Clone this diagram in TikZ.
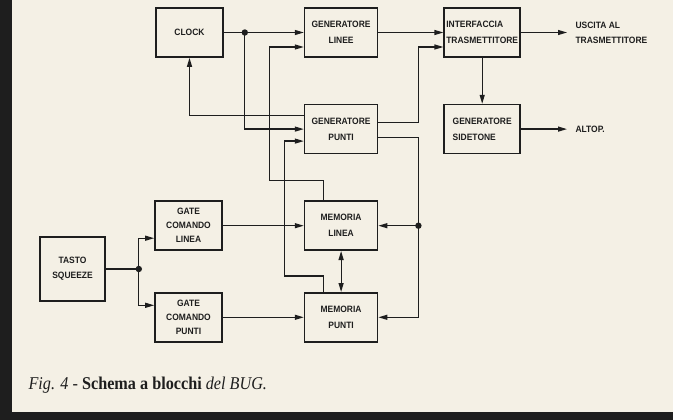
\documentclass[tikz,border=0pt]{standalone}
\usepackage{fontspec}
\newfontfamily\blkfont[FakeStretch=0.92]{Liberation Sans}
\newfontfamily\capfont[FakeStretch=0.9]{Liberation Serif}
\usetikzlibrary{
  arrows.meta,
  positioning
}
\definecolor{PaperCream}{RGB}{244,240,229}
\definecolor{InkBlack}{RGB}{30,30,30}
\tikzset{
  blk/.style={
    draw=InkBlack,
    fill=PaperCream,
    line width=1.6pt,
    minimum width=73pt,
    minimum height=49pt,
    align=center,
    text=InkBlack,
    font=\blkfont\bfseries\fontsize{9.2}{16}\selectfont,
    inner xsep=2pt
  },
  leftblk/.style={blk,align=left},
  gateblk/.style={blk,minimum width=67pt,font=\blkfont\bfseries\fontsize{9.2}{14}\selectfont},
  wire/.style={draw=InkBlack,line width=1.2pt},
  arrow/.style={wire,-{Triangle[length=9pt,width=5pt]}},
  dblarrow/.style={wire,{Triangle[length=9pt,width=5pt]}-{Triangle[length=9pt,width=5pt]}},
  outlbl/.style={anchor=west,align=left,text=InkBlack,font=\blkfont\bfseries\fontsize{9.2}{15}\selectfont}
}

\begin{document}
\begin{tikzpicture}[x=1pt,y=-1pt]
  \useasboundingbox (0,0) rectangle (673,420);
  \fill[PaperCream] (0,0) rectangle (673,420);
  \fill[InkBlack] (0,0) rectangle (12,420);
  \fill[InkBlack] (0,412) rectangle (673,420);

  % Generator row on top, memories below, key on the left.
  \node[blk, minimum width=67pt] (clock) at (189.5,32.5) {CLOCK};
  \node[blk, right=80pt of clock] (genlin) {GENERATORE\\LINEE};
  \node[leftblk, right=65pt of genlin, minimum width=76pt] (interf) {INTERFACCIA\\TRASMETTITORE};
  \node[blk, below=46pt of genlin] (genpun) {GENERATORE\\PUNTI};
  \node[leftblk, below=46pt of interf, minimum width=76pt] (sidet) {GENERATORE\\SIDETONE};
  \node[blk, below=46pt of genpun] (memlin) {MEMORIA\\LINEA};
  \node[blk, below=41pt of memlin] (mempun) {MEMORIA\\PUNTI};
  \node[gateblk, left=81pt of memlin] (gatelin) {GATE\\COMANDO\\LINEA};
  \node[gateblk, left=81pt of mempun] (gatepun) {GATE\\COMANDO\\PUNTI};
  \node[blk, minimum width=65pt, minimum height=64pt, font=\blkfont\bfseries\fontsize{9.2}{15}\selectfont] (tasto) at (72.5,269) {TASTO\\SQUEEZE};

  % Clock fan-out and feedback
  \coordinate[right=21pt of clock.east] (jclk);
  \draw[wire] (clock.east) -- (jclk);
  \draw[arrow] (jclk) -- (genlin.west);
  \draw[arrow] (jclk) |- (genpun.west);
  \fill[InkBlack] (jclk) circle (3.2pt);
  \draw[arrow] ([yshift=13.5pt]genpun.west) -| (clock.south);

  % Memories back to the generators
  \coordinate[right=46pt of clock.east] (busL);
  \coordinate[right=61pt of clock.east] (busP);
  \coordinate (linin) at ([yshift=-14.5pt]genlin.west);
  \coordinate (punin) at ([yshift=-12pt]genpun.west);
  \draw[arrow] ([xshift=-18pt]memlin.north) -- ++(0,-20) -| (busL |- linin) -- (linin);
  \draw[arrow] ([xshift=-18pt]mempun.north) -- ++(0,-16) -| (busP |- punin) -- (punin);
  \draw[dblarrow] (memlin) -- (mempun);

  % Dot generator outputs
  \coordinate[right=40pt of memlin.east] (jmem);
  \draw[arrow] ([yshift=6.5pt]genpun.east) -- ++(40,0) |- ([yshift=-14.5pt]interf.west);
  \draw[arrow] ([yshift=-8.5pt]genpun.east) -- ++(40,0) |- (mempun.east);
  \draw[arrow] (jmem) -- (memlin.east);
  \fill[InkBlack] (jmem) circle (3.2pt);

  % Transmitter and sidetone
  \draw[arrow] (genlin.east) -- (interf.west);
  \coordinate[right=46pt of interf.east] (txout);
  \draw[arrow] (interf.east) -- (txout);
  \node[outlbl, right=5pt of txout] (txlbl) {USCITA AL\\TRASMETTITORE};
  \draw[arrow] (interf) -- (sidet);
  \coordinate[right=46pt of sidet.east] (spkout);
  \draw[arrow] (sidet.east) -- (spkout);
  \node[outlbl, right=5pt of spkout] (spklbl) {ALTOP.};

  % Paddle inputs
  \coordinate[right=33pt of tasto.east] (jkey);
  \draw[wire] (tasto.east) -- (jkey);
  \draw[arrow] (jkey) |- ([yshift=-12.5pt]gatelin.west);
  \draw[arrow] (jkey) |- ([yshift=12pt]gatepun.west);
  \fill[InkBlack] (jkey) circle (3.2pt);
  \draw[arrow] (gatelin) -- (memlin);
  \draw[arrow] (gatepun) -- (mempun);

  \node[anchor=base west, text=InkBlack, font=\capfont\fontsize{18}{20}\selectfont] (caption) at (25,389)
    {\textit{Fig. 4} - \textbf{Schema a blocchi} \textit{del BUG.}};
\end{tikzpicture}
\end{document}
